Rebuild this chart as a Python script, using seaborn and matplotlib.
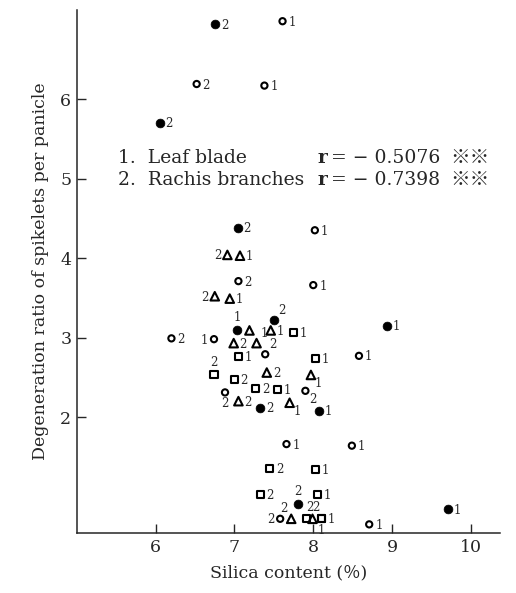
import matplotlib
matplotlib.use("Agg")
import matplotlib.pyplot as plt
import numpy as np
import pandas as pd
import seaborn as sns

# silica content (%), degeneration ratio, organ label (1 leaf blade, 2 rachis branches)
filled_x = [6.75, 6.05, 7.04, 7.03, 7.50, 8.93, 7.33, 8.07, 7.81, 9.71]
filled_y = [6.94, 5.70, 4.38, 3.10, 3.22, 3.15, 2.12, 2.08, 0.90, 0.84]
filled_lab = ["2", "2", "2", "1", "2", "1", "2", "1", "2", "1"]

circle_x = [7.61, 6.52, 7.38, 8.02, 7.05, 8.00, 6.20, 6.74, 7.39, 8.58,
            7.90, 6.88, 7.66, 8.49, 7.58, 8.71]
circle_y = [6.98, 6.19, 6.17, 4.35, 3.71, 3.66, 2.99, 2.98, 2.79, 2.77,
            2.33, 2.31, 1.66, 1.64, 0.72, 0.65]
circle_lab = ["1", "2", "1", "1", "2", "1", "2", "1", "2", "1",
              "2", "2", "1", "1", "2", "1"]

tri_x = [6.91, 7.07, 6.75, 6.94, 7.19, 7.46, 6.99, 7.28, 7.41, 7.97,
         7.05, 7.70, 7.72, 7.99]
tri_y = [4.04, 4.03, 3.52, 3.49, 3.09, 3.09, 2.93, 2.93, 2.56, 2.53,
         2.20, 2.18, 0.72, 0.72]
tri_lab = ["2", "1", "2", "1", "", "1", "2", "1", "2", "1",
           "2", "1", "2", "2"]

sq_x = [7.75, 7.05, 8.03, 6.74, 7.00, 7.27, 7.55, 7.45, 8.03, 7.33,
        8.05, 7.91, 8.11, 8.10]
sq_y = [3.06, 2.76, 2.74, 2.53, 2.47, 2.36, 2.35, 1.35, 1.34, 1.03,
        1.03, 0.72, 0.72, 0.72]
sq_lab = ["1", "1", "1", "2", "2", "2", "1", "2", "1", "2",
          "1", "2", "1", "1"]

# where each number sits next to its mark
filled_pos = ["r", "r", "r", "a", "ur", "r", "r", "r", "a", "r"]
circle_pos = ["r", "r", "r", "r", "r", "r", "r", "l", "ur", "r",
              "lr", "b", "r", "r", "l", "r"]
tri_pos = ["l", "r", "l", "r", "r", "r", "r", "ur", "r", "lr",
           "r", "lr", "ul", "up"]
sq_pos = ["r", "r", "r", "a", "r", "r", "r", "r", "r", "r",
          "r", "up", "r", "b"]

x_ticks = [6, 7, 8, 9, 10]
y_ticks = [2, 3, 4, 5, 6]

offsets = {
    "r": ((6, -1), "left", "center"),
    "l": ((-6, -1), "right", "center"),
    "a": ((0, 6), "center", "bottom"),
    "b": ((0, -5), "center", "top"),
    "ur": ((4, 3), "left", "bottom"),
    "lr": ((4, -2), "left", "top"),
    "ul": ((-4, 4), "right", "bottom"),
    "up": ((0, 5), "left", "bottom"),
}

sns.set_style("ticks")
plt.rcParams["font.family"] = ["DejaVu Serif", "Noto Sans CJK JP"]

fig = plt.figure(figsize=(5.16, 5.93), dpi=100)
ax = fig.add_axes([0.149, 0.101, 0.820, 0.882])

groups = [
    (filled_x, filled_y, filled_lab, filled_pos, dict(marker="o", s=40, color="black", edgecolor="black", linewidth=0.5)),
    (circle_x, circle_y, circle_lab, circle_pos, dict(marker="o", s=20, facecolors="none", edgecolor="black", linewidth=1.5)),
    (tri_x, tri_y, tri_lab, tri_pos, dict(marker="^", s=38, facecolors="none", edgecolor="black", linewidth=1.5)),
    (sq_x, sq_y, sq_lab, sq_pos, dict(marker="s", s=26, facecolors="none", edgecolor="black", linewidth=1.5)),
]

for gx, gy, glab, gpos, kw in groups:
    df = pd.DataFrame({"silica": gx, "ratio": gy, "organ": glab})
    sns.scatterplot(data=df, x="silica", y="ratio", ax=ax, legend=False, zorder=3, **kw)
    for xv, yv, lab, pos in zip(gx, gy, glab, gpos):
        if not lab:
            continue
        off, ha, va = offsets[pos]
        ax.annotate(lab, (xv, yv), xytext=off, textcoords="offset pixels",
                    ha=ha, va=va, fontsize=8.5)

ax.set_xlim(5.0, 10.37)
ax.set_ylim(0.54, 7.12)
ax.set_xticks(x_ticks)
ax.set_yticks(y_ticks)
ax.tick_params(direction="in", length=6.5, width=1, labelsize=12.5, pad=4)
sns.despine(ax=ax)
for sp in ["left", "bottom"]:
    ax.spines[sp].set_linewidth(1.1)

ax.set_xlabel("Silica content (％)", fontsize=12.5, labelpad=6)
ax.set_ylabel("Degeneration ratio of spikelets per panicle", fontsize=12.5, labelpad=8)

# correlation notes
ax.text(5.52, 5.26, "1.  Leaf blade", fontsize=13.5, va="center")
ax.text(5.52, 4.98, "2.  Rachis branches", fontsize=13.5, va="center")
for yv, r in [(5.26, "0.5076"), (4.98, "0.7398")]:
    ax.text(8.06, yv, "r", fontsize=13.5, fontweight="bold", va="center")
    ax.text(8.23, yv, "= − " + r, fontsize=13.5, va="center")
    ax.text(9.74, yv, "※※", fontsize=14, va="center")

fig.savefig("out.png", dpi=100)
